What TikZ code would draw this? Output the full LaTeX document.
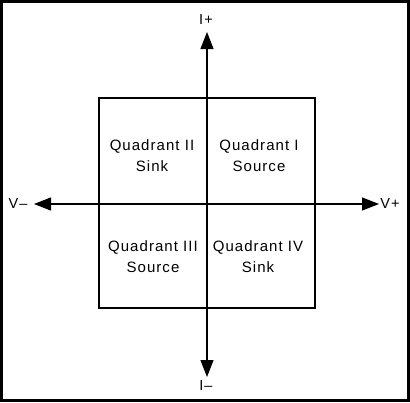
\documentclass[tikz,border=0pt]{standalone}
\usepackage{fontspec}
\setmainfont{Liberation Sans}[LetterSpace=7]
\usetikzlibrary{arrows.meta}
\begin{document}
\begin{tikzpicture}[x=1pt,y=-1pt,
  axis/.style={line width=1.1pt, -{Triangle[length=17pt,width=13pt]}},
  lbl/.style={font=\fontsize{14.5}{20}\selectfont, inner sep=0pt, align=center},
  qlbl/.style={font=\fontsize{15}{21}\selectfont, inner sep=0pt, align=center}]
\useasboundingbox (0,0) rectangle (410,402);
\draw[line width=2.6pt] (1.3,1.3) rectangle (408.7,400.7);
% quadrant box
\draw[line width=1.1pt] (99,98) rectangle (315,308);
% axes
\coordinate (c) at (207,204);
\coordinate (top) at (207,32);
\coordinate (bot) at (207,377);
\coordinate (lft) at (34,204);
\coordinate (rgt) at (379,204);
\draw[axis] (c) -- (top);
\draw[axis] (c) -- (bot);
\draw[axis] (c) -- (lft);
\draw[axis] (c) -- (rgt);
% axis labels
\node[lbl] (ip) at (206,20) {I+};
\node[lbl] (im) at (206,386) {I--};
\node[lbl] (vm) at (18,204) {V--};
\node[lbl] (vp) at (390,204) {V+};
% quadrant labels
\node[qlbl] (q2) at (152,156) {Quadrant II\\Sink};
\node[qlbl] (q1) at (259,156) {Quadrant I\\Source};
\node[qlbl] (q3) at (153,257) {Quadrant III\\Source};
\node[qlbl] (q4) at (258,257) {Quadrant IV\\Sink};
\end{tikzpicture}
\end{document}
